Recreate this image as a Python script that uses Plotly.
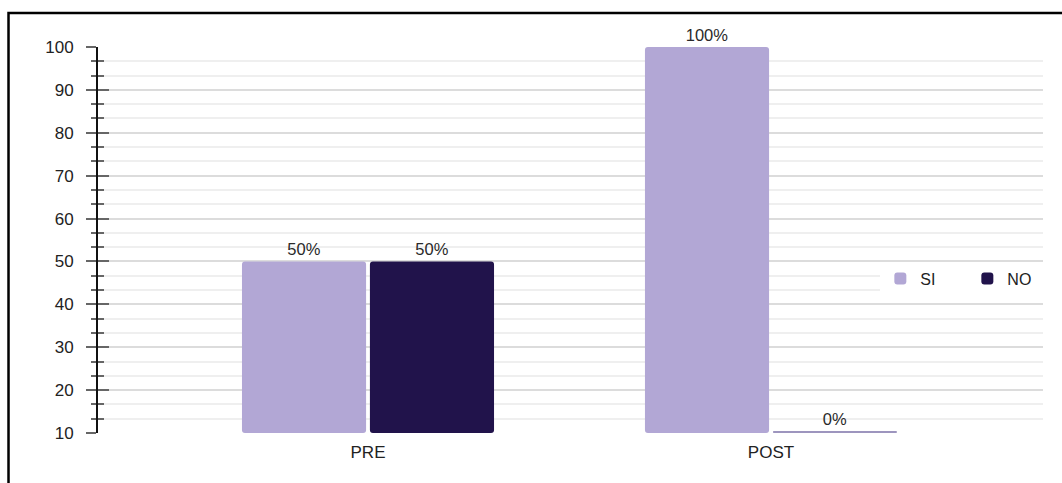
import plotly.graph_objects as go

categories = ["PRE", "POST"]
si_values = [50, 100]
no_values = [50, 0]
series_names = ["SI", "NO"]
y_min, y_max = 10, 100
y_tickvals = [10, 20, 30, 40, 50, 60, 70, 80, 90, 100]

SI_COLOR = "#b2a7d5"
NO_COLOR = "#21134b"
ZERO_COLOR = "#9d95be"
FONT = "Liberation Sans, Arial, sans-serif"


def drawn(vals):
    # bars start at the axis floor; a zero value is shown as a thin line
    return [max(v - y_min, 0.45) for v in vals]


fig = go.Figure()
for name, vals, color in [("SI", si_values, SI_COLOR), ("NO", no_values, NO_COLOR)]:
    fig.add_trace(go.Bar(
        name=name,
        x=categories,
        y=drawn(vals),
        base=y_min,
        customdata=vals,
        texttemplate="%{customdata}%",
        textposition="outside",
        textfont=dict(family=FONT, size=16.5, color="#2a2a2a"),
        marker=dict(color=[color if v > 0 else ZERO_COLOR for v in vals],
                    line=dict(width=0), cornerradius=3),
        cliponaxis=False,
        hoverinfo="skip",
    ))

# helper trace so the overlaid axis (inner half of the ticks) is drawn
fig.add_trace(go.Scatter(x=[categories[0]], y=[None], yaxis="y2",
                         showlegend=False, hoverinfo="skip"))

fig.update_layout(
    width=1062, height=483,
    margin=dict(l=98, r=19, t=47, b=50, autoexpand=False),
    paper_bgcolor="white", plot_bgcolor="white",
    barmode="group", bargap=0.365, bargroupgap=0.03,
    font=dict(family=FONT, size=16, color="#222222"),
    showlegend=True,
    legend=dict(orientation="h", x=1.012, xanchor="right", y=0.40, yanchor="middle",
                bgcolor="white", font=dict(family=FONT, size=16, color="#222222"),
                traceorder="normal", entrywidth=42, itemsizing="constant"),
    xaxis=dict(
        type="category", range=[-0.67, 1.675],
        showgrid=False, showline=False, ticks="", zeroline=False,
        ticklabelstandoff=7,
        tickfont=dict(family=FONT, size=17, color="#222222"),
    ),
    yaxis=dict(
        range=[y_min, y_max], tickvals=y_tickvals,
        showline=True, linecolor="#111111", linewidth=2,
        ticks="outside", ticklen=10, tickwidth=2, tickcolor="#666666",
        ticklabelstandoff=9,
        showgrid=True, gridcolor="#dcdcdc", gridwidth=1.5,
        zeroline=False,
        tickfont=dict(family=FONT, size=17, color="#222222"),
        minor=dict(tick0=y_min, dtick=10 / 3, ticks="outside", ticklen=5, tickwidth=2,
                   tickcolor="#666666", showgrid=True, gridcolor="#efefef", gridwidth=1.5),
    ),
    yaxis2=dict(
        overlaying="y", range=[y_min, y_max], tickvals=y_tickvals,
        showline=False, showgrid=False, zeroline=False, showticklabels=False,
        ticks="inside", ticklen=11, tickwidth=2, tickcolor="#666666",
        minor=dict(tick0=y_min, dtick=10 / 3, ticks="inside", ticklen=6, tickwidth=2,
                   tickcolor="#666666", showgrid=False),
    ),
    shapes=[dict(type="rect", xref="paper", yref="paper",
                 x0=-0.0947, x1=1.2, y0=-0.3, y1=1.088,
                 line=dict(color="black", width=2.5), fillcolor="rgba(0,0,0,0)",
                 layer="above")],
)

fig.write_html("out.html")
